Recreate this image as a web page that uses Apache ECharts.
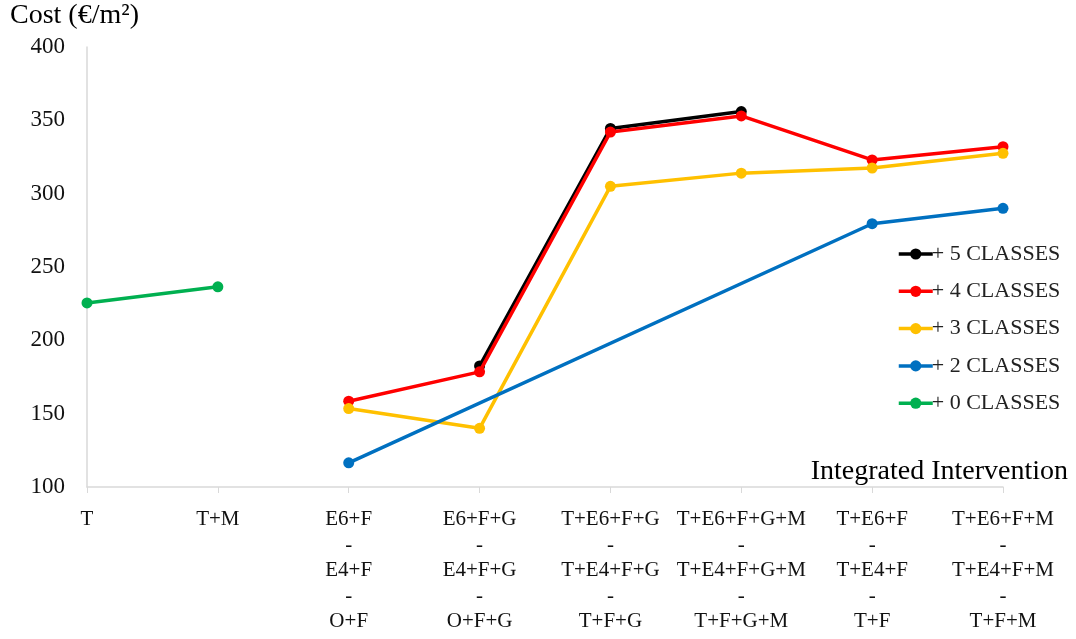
<!DOCTYPE html>
<html><head><meta charset="utf-8">
<script src="https://cdn.jsdelivr.net/npm/echarts@6/dist/echarts.min.js"></script>
<style>html,body{margin:0;padding:0;background:#fff}#c{width:1076px;height:639px}</style>
</head><body><div id="c"></div>
<script>
const categories = ['T','T+M','E6+F\n-\nE4+F\n-\nO+F','E6+F+G\n-\nE4+F+G\n-\nO+F+G','T+E6+F+G\n-\nT+E4+F+G\n-\nT+F+G','T+E6+F+G+M\n-\nT+E4+F+G+M\n-\nT+F+G+M','T+E6+F\n-\nT+E4+F\n-\nT+F','T+E6+F+M\n-\nT+E4+F+M\n-\nT+F+M'];
const class5 = [null,null,null,182.5,344.5,356,null,null];
const class4 = [null,null,158.5,178.5,342,353,323,332];
const class3 = [null,null,153.5,140,305,314,317.5,327.5];
const class2 = [null,null,116.5,null,null,null,279.5,290];
const class0 = [225.5,236.5,null,null,null,null,null,null];
const seriesNames = ['+ 5 CLASSES','+ 4 CLASSES','+ 3 CLASSES','+ 2 CLASSES','+ 0 CLASSES'];
const seriesData = [class5,class4,class3,class2,class0];
const colors = ['#000000','#ff0000','#ffc000','#0070c0','#00b050'];
const font = 'Liberation Serif';
const chart = echarts.init(document.getElementById('c'));
chart.setOption({
  animation:false,
  graphic:[{type:'text',left:10,top:2,style:{text:'Cost (€/m²)',font:'28px "Liberation Serif"',fill:'#000'}}],
  grid:{left:87,right:73,top:47,bottom:152},
  legend:{
    orient:'vertical',left:892,top:238,itemGap:15.3,itemWidth:34,itemHeight:14,
    data:seriesNames,
    lineStyle:{width:3.5},
    textStyle:{fontFamily:font,fontSize:22,lineHeight:22,color:'#222',padding:[0,0,0,-6]}
  },
  xAxis:{
    type:'category',data:categories,boundaryGap:false,
    name:'Integrated Intervention',nameLocation:'end',nameGap:65,
    nameTextStyle:{fontFamily:font,fontSize:28,color:'#000',align:'right',verticalAlign:'bottom',padding:[0,0,1,0]},
    axisLine:{lineStyle:{color:'#d9d9d9',width:1.5}},
    axisTick:{alignWithLabel:true,length:6,lineStyle:{color:'#d9d9d9'}},
    axisLabel:{interval:0,fontFamily:font,fontSize:21,color:'#111',lineHeight:25.5,margin:20}
  },
  yAxis:{
    type:'value',min:100,max:400,interval:50,
    axisLine:{show:true,lineStyle:{color:'#d9d9d9',width:1.5}},
    axisTick:{show:false},splitLine:{show:false},
    axisLabel:{fontFamily:font,fontSize:23,color:'#111',margin:22}
  },
  series:seriesData.map((d,i)=>({
    name:seriesNames[i],type:'line',data:d,connectNulls:true,
    symbol:'circle',symbolSize:11,
    itemStyle:{color:colors[i]},
    lineStyle:{color:colors[i],width:3.5},
    z:[1,2,3,4,5][i]
  }))
});
</script></body></html>
